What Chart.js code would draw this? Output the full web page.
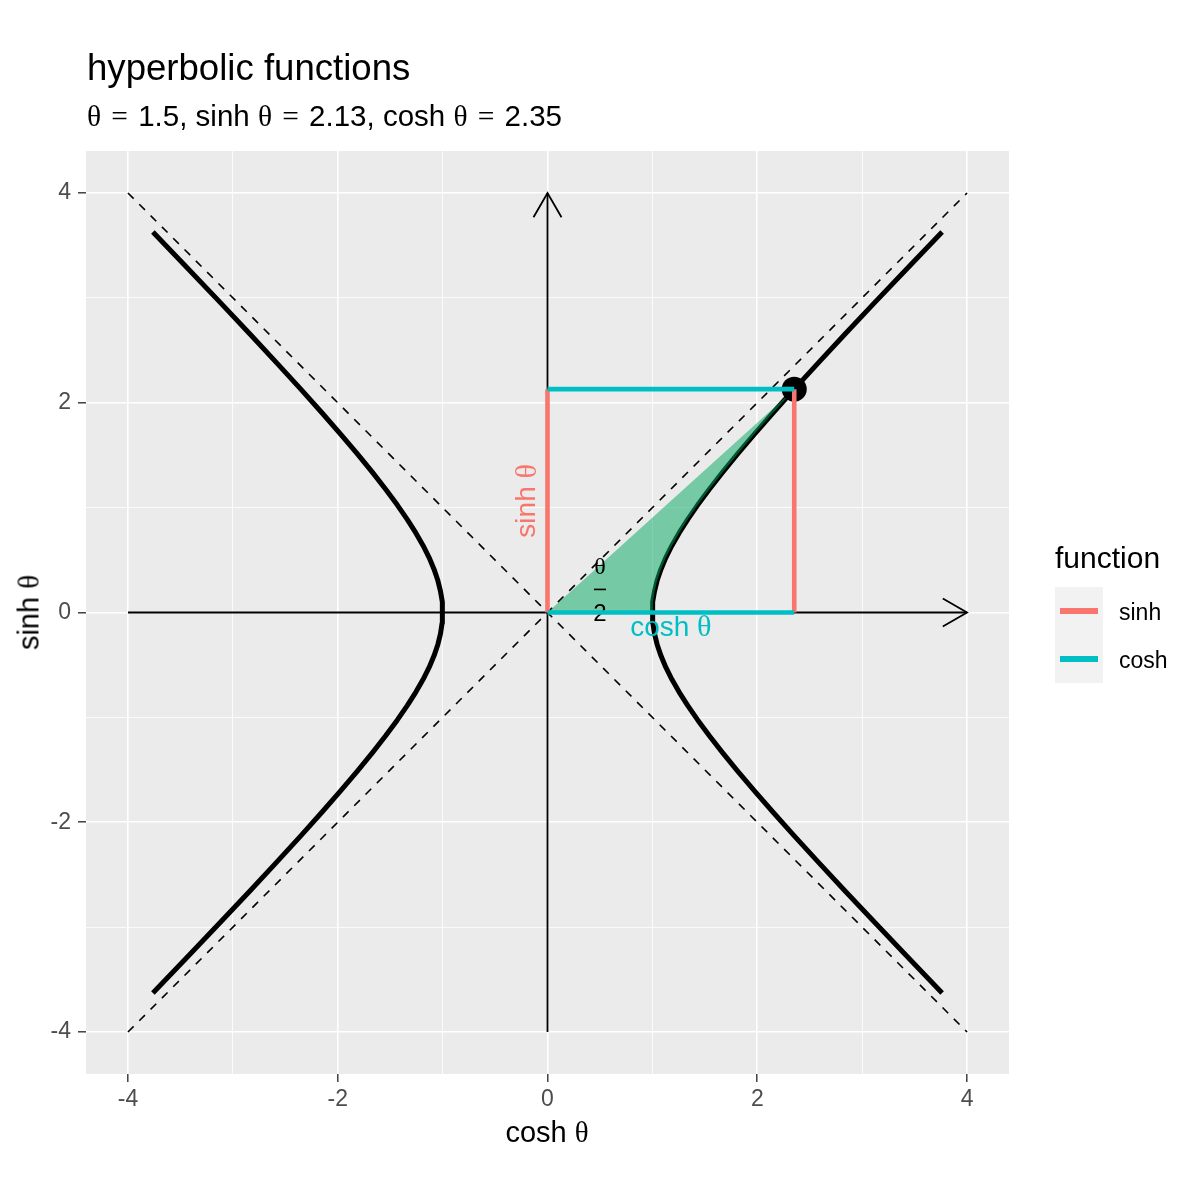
<!DOCTYPE html>
<html>
<head>
<meta charset="utf-8">
<script src="https://cdn.jsdelivr.net/npm/chart.js@4.4.1/dist/chart.umd.min.js"></script>
<style>
html, body { margin: 0; padding: 0; background: #ffffff; }
#wrap { position: relative; width: 1200px; height: 1200px; overflow: hidden;
        font-family: "Liberation Sans", Arial, sans-serif; color: #000; }
#c { position: absolute; left: 0; top: 0; }
.t { position: absolute; white-space: nowrap; line-height: 1; }
.g { font-family: "Liberation Serif", "Times New Roman", serif; }
.eq { font-family: "Liberation Serif", "Times New Roman", serif; margin: 0 2px; }
</style>
</head>
<body>
<div id="wrap">
  <canvas id="c" width="1200" height="1200"></canvas>
  <div class="t" id="title" style="left:87px; top:50px; font-size:36.6px;">hyperbolic functions</div>
  <div class="t" id="subtitle" style="left:87px; top:101px; font-size:29.5px;"></div>
  <div class="t" id="xtitle" style="left:447px; width:200px; text-align:center; top:1118px; font-size:29px;"></div>
  <div class="t" id="ytitle" style="left:-71px; width:200px; height:29px; text-align:center; top:598px; font-size:29px; transform:rotate(-90deg);"></div>
  <div class="t" id="legtitle" style="left:1055px; top:543px; font-size:30px;">function</div>
  <div id="legend"></div>
</div>
<script>
// ---------------- data ----------------
const thetaSteps = [0.0, 0.1, 0.2, 0.3, 0.4, 0.5, 0.6, 0.7, 0.8, 0.9, 1.0,
                    1.1, 1.2, 1.3, 1.4, 1.5, 1.6, 1.7, 1.8, 1.9, 2.0];
const coshValues = [1.0000, 1.0050, 1.0201, 1.0453, 1.0811, 1.1276, 1.1855, 1.2552, 1.3374, 1.4331, 1.5431,
                    1.6685, 1.8107, 1.9709, 2.1509, 2.3524, 2.5775, 2.8283, 3.1075, 3.4177, 3.7622];
const sinhValues = [0.0000, 0.1002, 0.2013, 0.3045, 0.4108, 0.5211, 0.6367, 0.7586, 0.8881, 1.0265, 1.1752,
                    1.3356, 1.5095, 1.6984, 1.9043, 2.1293, 2.3756, 2.6456, 2.9422, 3.2682, 3.6269];
const thetaValue = 1.5;
const sinhTheta = 2.1293;
const coshTheta = 2.3524;
const axisLimits = [-4, 4];
const majorTicks = [-4, -2, 0, 2, 4];
const minorTicks = [-3, -1, 1, 3];
const functionNames = ['sinh', 'cosh'];
const functionColors = ['#F8766D', '#00BFC4'];

// ---------------- texts ----------------
const TH = '<span class="g">\u03B8</span>';
const EQ = '<span class="eq">=</span>';
document.getElementById('subtitle').innerHTML =
  TH + ' ' + EQ + ' ' + thetaValue + ', sinh ' + TH + ' ' + EQ + ' ' + sinhTheta.toFixed(2) +
  ', cosh ' + TH + ' ' + EQ + ' ' + coshTheta.toFixed(2);
document.getElementById('xtitle').innerHTML = 'cosh ' + TH;
document.getElementById('ytitle').innerHTML = 'sinh ' + TH;

// legend (HTML)
(function () {
  const lg = document.getElementById('legend');
  let html = '<div style="position:absolute;left:1055px;top:587px;width:48px;height:96px;background:#F2F2F2;"></div>';
  functionNames.forEach((name, i) => {
    const cy = 611 + i * 48;
    html += '<div style="position:absolute;left:1060px;top:' + (cy - 2.6) + 'px;width:38px;height:5.2px;background:' + functionColors[i] + ';"></div>';
    html += '<div class="t" style="left:1119px;top:' + (cy - 10) + 'px;font-size:23px;">' + name + '</div>';
  });
  lg.innerHTML = html;
})();

// ---------------- build geometry from data ----------------
function branch(sign) {
  const pts = [];
  for (let i = thetaSteps.length - 1; i > 0; i--) pts.push({ x: sign * coshValues[i], y: -sinhValues[i] });
  for (let i = 0; i < thetaSteps.length; i++) pts.push({ x: sign * coshValues[i], y: sinhValues[i] });
  return pts;
}
const sector = [{ x: 0, y: 0 }];
thetaSteps.forEach((t, i) => { if (t <= thetaValue + 1e-9) sector.push({ x: coshValues[i], y: sinhValues[i] }); });
sector.push({ x: 0, y: 0 });

const lo = axisLimits[0], hi = axisLimits[1];
const BLACK = '#000000';
const base = { showLine: true, pointRadius: 0, pointHoverRadius: 0, fill: false, tension: 0,
               borderCapStyle: 'butt', borderJoinStyle: 'round' };

const datasets = [
  Object.assign({}, base, { label: 'asymptote+', data: [{ x: lo, y: lo }, { x: hi, y: hi }],
    borderColor: BLACK, borderWidth: 1.6, borderDash: [8, 8], order: 10 }),
  Object.assign({}, base, { label: 'asymptote-', data: [{ x: lo, y: hi }, { x: hi, y: lo }],
    borderColor: BLACK, borderWidth: 1.6, borderDash: [8, 8], order: 10 }),
  Object.assign({}, base, { label: 'x axis', data: [{ x: lo, y: 0 }, { x: hi, y: 0 }],
    borderColor: BLACK, borderWidth: 1.8, order: 9, arrowEnd: true }),
  Object.assign({}, base, { label: 'y axis', data: [{ x: 0, y: lo }, { x: 0, y: hi }],
    borderColor: BLACK, borderWidth: 1.8, order: 9, arrowEnd: true }),
  Object.assign({}, base, { label: 'left branch', data: branch(-1),
    borderColor: BLACK, borderWidth: 5, order: 8 }),
  Object.assign({}, base, { label: 'right branch', data: branch(1),
    borderColor: BLACK, borderWidth: 5, order: 8 }),
  Object.assign({}, base, { label: 'sector', data: sector, fill: 'shape',
    backgroundColor: 'rgba(0,168,96,0.5)', borderColor: 'rgba(0,0,0,0)', borderWidth: 0, order: 7, fraction: true }),
  { label: 'point', data: [{ x: coshTheta, y: sinhTheta }], showLine: false, pointRadius: 12.5, pointHoverRadius: 12.5,
    pointBackgroundColor: BLACK, pointBorderWidth: 0, pointBorderColor: BLACK, order: 6 },
  Object.assign({}, base, { label: 'sinh', data: [{ x: 0, y: 0 }, { x: 0, y: sinhTheta }],
    borderColor: functionColors[0], borderWidth: 4.6, order: 5 }),
  Object.assign({}, base, { label: 'sinh', data: [{ x: coshTheta, y: 0 }, { x: coshTheta, y: sinhTheta }],
    borderColor: functionColors[0], borderWidth: 4.6, order: 5 }),
  Object.assign({}, base, { label: 'cosh', data: [{ x: 0, y: 0 }, { x: coshTheta, y: 0 }],
    borderColor: functionColors[1], borderWidth: 4.6, order: 4 }),
  Object.assign({}, base, { label: 'cosh', data: [{ x: 0, y: sinhTheta }, { x: coshTheta, y: sinhTheta }],
    borderColor: functionColors[1], borderWidth: 4.6, order: 4 })
];

// ---------------- helpers ----------------
const SANS = '"Liberation Sans", Arial, sans-serif';
const SERIF = '"Liberation Serif", "Times New Roman", serif';
function drawMixed(ctx, parts, size, x, y) {
  let total = 0;
  const widths = parts.map(p => { ctx.font = (p.serif ? size * 1.08 : size) + 'px ' + (p.serif ? SERIF : SANS); const w = ctx.measureText(p.t).width; total += w; return w; });
  let cx = x - total / 2;
  ctx.textAlign = 'left';
  parts.forEach((p, i) => { ctx.font = (p.serif ? size * 1.08 : size) + 'px ' + (p.serif ? SERIF : SANS); ctx.fillText(p.t, cx, y); cx += widths[i]; });
}

const decor = {
  id: 'decor',
  beforeDraw(chart) {
    const { ctx, chartArea: a } = chart;
    ctx.save();
    ctx.fillStyle = '#EBEBEB';
    ctx.fillRect(a.left, a.top, a.right - a.left, a.bottom - a.top);
    ctx.restore();
  },
  afterDatasetDraw(chart, args) {
    const ds = chart.data.datasets[args.index];
    const ctx = chart.ctx;
    const pts = args.meta.data;
    if (ds.arrowEnd && pts.length >= 2) {
      const p1 = pts[pts.length - 2], p2 = pts[pts.length - 1];
      const ang = Math.atan2(p2.y - p1.y, p2.x - p1.x);
      const L = 28, A = Math.PI / 6;
      ctx.save();
      ctx.strokeStyle = ds.borderColor; ctx.lineWidth = ds.borderWidth; ctx.lineCap = 'butt'; ctx.lineJoin = 'miter';
      ctx.beginPath();
      ctx.moveTo(p2.x - L * Math.cos(ang - A), p2.y - L * Math.sin(ang - A));
      ctx.lineTo(p2.x, p2.y);
      ctx.lineTo(p2.x - L * Math.cos(ang + A), p2.y - L * Math.sin(ang + A));
      ctx.stroke();
      ctx.restore();
    }
    if (ds.fraction) {
      const xs = chart.scales.x, ys = chart.scales.y;
      const fx = xs.getPixelForValue(0.5), fy = ys.getPixelForValue(0.22);
      ctx.save();
      ctx.fillStyle = BLACK;
      ctx.textBaseline = 'alphabetic';
      ctx.textAlign = 'center';
      ctx.font = '24px ' + SERIF;
      ctx.fillText('\u03B8', fx, fy - 15);
      ctx.font = '24px ' + SANS;
      ctx.fillText('2', fx, fy + 32);
      ctx.fillRect(fx - 6, fy - 0.8, 12, 1.6);
      ctx.restore();
    }
  },
  afterDatasetsDraw(chart) {
    const { ctx } = chart;
    const xs = chart.scales.x, ys = chart.scales.y;
    ctx.save();
    ctx.textBaseline = 'middle';
    ctx.fillStyle = functionColors[1];
    drawMixed(ctx, [{ t: 'cosh ' }, { t: '\u03B8', serif: true }], 28,
              xs.getPixelForValue(coshTheta / 2), ys.getPixelForValue(-0.15));
    ctx.fillStyle = functionColors[0];
    ctx.translate(xs.getPixelForValue(-0.19), ys.getPixelForValue(sinhTheta / 2));
    ctx.rotate(-Math.PI / 2);
    drawMixed(ctx, [{ t: 'sinh ' }, { t: '\u03B8', serif: true }], 28, 0, 0);
    ctx.restore();
  }
};

const allTicks = majorTicks.concat(minorTicks).sort((a, b) => a - b);
const isMajor = v => majorTicks.indexOf(v) >= 0;
function scaleOpts(axis) {
  return {
    type: 'linear',
    min: -4.4, max: 4.4,
    afterBuildTicks: s => { s.ticks = allTicks.map(v => ({ value: v })); },
    afterFit: s => { if (axis === 'x') s.height = 126; else s.width = 86; },
    border: { display: false },
    grid: {
      color: '#FFFFFF',
      lineWidth: c => (c.tick && isMajor(c.tick.value)) ? 1.6 : 0.8,
      drawTicks: true,
      tickLength: 8,
      tickWidth: 1.4,
      tickColor: c => (c.tick && isMajor(c.tick.value)) ? '#333333' : 'rgba(0,0,0,0)'
    },
    ticks: {
      autoSkip: false, maxRotation: 0, minRotation: 0,
      padding: axis === 'x' ? 4 : 7,
      color: '#4D4D4D',
      font: { family: '"Liberation Sans", Arial, sans-serif', size: 23 },
      callback: v => isMajor(v) ? String(v) : ''
    }
  };
}

new Chart(document.getElementById('c'), {
  type: 'scatter',
  data: { datasets: datasets },
  options: {
    responsive: false,
    animation: false,
    devicePixelRatio: 1,
    events: [],
    layout: { padding: { left: 0, top: 151, right: 191, bottom: 0 } },
    plugins: { legend: { display: false }, tooltip: { enabled: false }, title: { display: false } },
    scales: { x: scaleOpts('x'), y: scaleOpts('y') }
  },
  plugins: [decor]
});
</script>
</body>
</html>
